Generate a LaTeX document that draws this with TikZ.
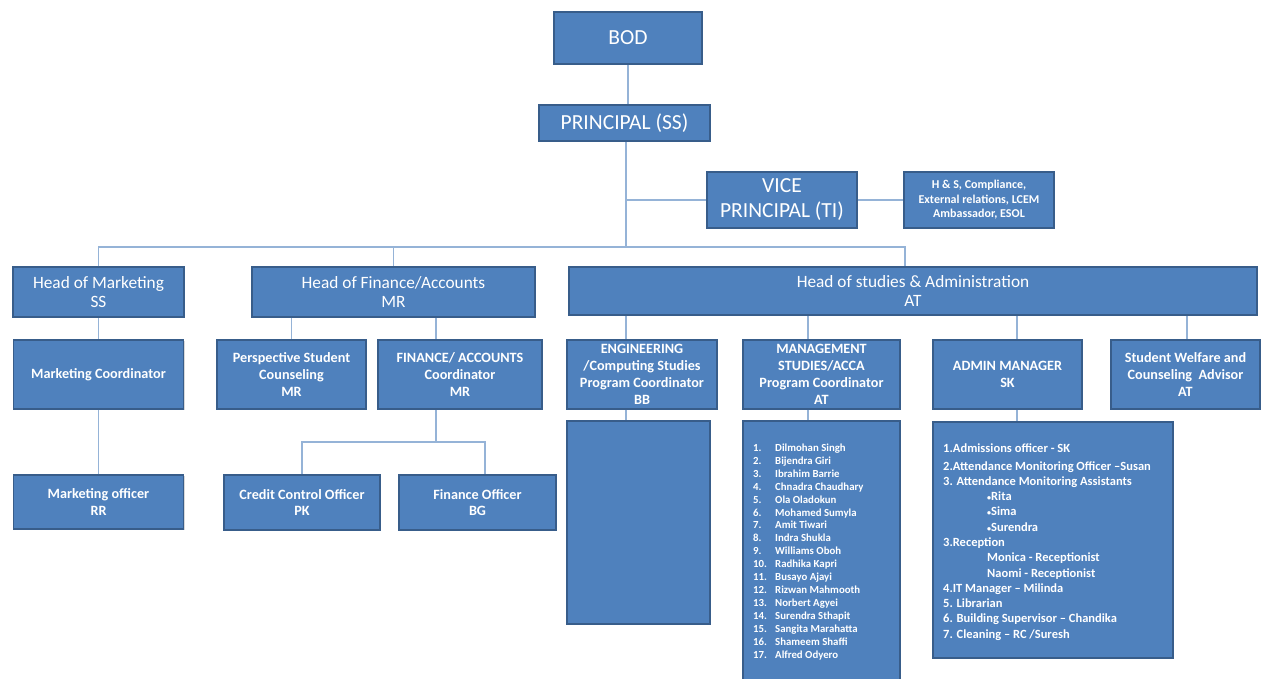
\documentclass[tikz,border=0pt]{standalone}
\usepackage{fontspec}
\setmainfont{Carlito}
\usetikzlibrary{shadows}
\definecolor{bfill}{HTML}{4F81BD}
\definecolor{bdraw}{HTML}{385D8A}
\definecolor{connc}{HTML}{95B3D7}
\newcommand\smbul{{\fontsize{8}{8}\selectfont•}}
\tikzset{
  box/.style={draw=bdraw, fill=bfill, line width=1.5pt, text=white, align=center, inner sep=0pt,
    drop shadow={shadow xshift=1.2pt, shadow yshift=-1.2pt, opacity=0.3}},
  bigtxt/.style={font=\fontsize{21.5}{25}\selectfont},
  headtxt/.style={font=\fontsize{17.3}{19}\selectfont},
  smalltxt/.style={font=\bfseries\fontsize{14.2}{16.8}\selectfont},
  listtxt/.style={text=white, align=left, inner sep=0pt, anchor=north west},
  conn/.style={draw=connc, line width=1.8pt},
}
\begin{document}
\begin{tikzpicture}[x=1pt,y=-1pt]
\useasboundingbox (0,0) rectangle (1264,678);
\clip (0,0) rectangle (1264,678);
% top
\node[box,bigtxt,minimum width=148pt,minimum height=52pt] (bod) at (628,38) {BOD};
\node[box,bigtxt,minimum width=171pt,minimum height=36pt] (prin) at (624.5,123) {PRINCIPAL (SS)};
\node[box,bigtxt,minimum width=150pt,minimum height=56pt] (vp) at (782,200) {VICE\\PRINCIPAL (TI)};
\node[box,font=\bfseries\fontsize{12}{14.5}\selectfont,minimum width=150pt,minimum height=56pt] (hsbox) at (979,200) {H \& S, Compliance,\\External relations, LCEM\\Ambassador, ESOL};
% heads
\node[box,headtxt,minimum width=171pt,minimum height=50pt] (hmkt) at (98.5,292) {Head of Marketing\\SS};
\node[box,headtxt,minimum width=283pt,minimum height=50pt] (hfin) at (393.5,292) {Head of Finance/Accounts\\MR};
\node[box,headtxt,minimum width=688pt,minimum height=48pt] (hstud) at (913,291) {Head of studies \& Administration\\AT};
% row 2
\node[box,smalltxt,minimum width=170pt,minimum height=69pt] (mcoord) at (98.5,374.5) {Marketing Coordinator};
\node[box,smalltxt,minimum width=149pt,minimum height=69pt] (psc) at (291.5,374.5) {Perspective Student\\Counseling\\MR};
\node[box,smalltxt,minimum width=164pt,minimum height=69pt] (fac) at (460,374.5) {FINANCE/ ACCOUNTS\\Coordinator\\MR};
\node[box,smalltxt,minimum width=150pt,minimum height=69pt] (eng) at (642,374.5) {ENGINEERING\\/Computing Studies\\Program Coordinator\\BB};
\node[box,smalltxt,minimum width=157pt,minimum height=69pt] (mgmt) at (821.5,374.5) {MANAGEMENT\\STUDIES/ACCA\\Program Coordinator\\AT};
\node[box,smalltxt,minimum width=149pt,minimum height=69pt] (admin) at (1007.5,374.5) {ADMIN MANAGER\\SK};
\node[box,smalltxt,minimum width=149pt,minimum height=69pt] (welf) at (1185.5,374.5) {Student Welfare and\\Counseling\ \ Advisor\\AT};
% row 3
\node[box,smalltxt,minimum width=170pt,minimum height=54pt] (mofficer) at (98.5,502) {Marketing officer\\RR};
\node[box,smalltxt,minimum width=156pt,minimum height=55pt] (cco) at (302,502.5) {Credit Control Officer\\PK};
\node[box,smalltxt,minimum width=157pt,minimum height=55pt] (fo) at (477.5,502.5) {Finance Officer\\BG};
% lists
\node[box,minimum width=143pt,minimum height=203pt] (engbox) at (638.5,522.5) {};
\node[box,minimum width=157pt,minimum height=270pt] (mgmtlist) at (821.5,556) {};
\node[box,minimum width=240pt,minimum height=236pt] (adminlist) at (1053,540) {};
\node[listtxt,font=\bfseries\fontsize{10.8}{12.95}\selectfont] (mnames) at (753,443.5) {%
\makebox[22pt][l]{1.}Dilmohan Singh\\
\makebox[22pt][l]{2.}Bijendra Giri\\
\makebox[22pt][l]{3.}Ibrahim Barrie\\
\makebox[22pt][l]{4.}Chnadra Chaudhary\\
\makebox[22pt][l]{5.}Ola Oladokun\\
\makebox[22pt][l]{6.}Mohamed Sumyla\\
\makebox[22pt][l]{7.}Amit Tiwari\\
\makebox[22pt][l]{8.}Indra Shukla\\
\makebox[22pt][l]{9.}Williams Oboh\\
\makebox[22pt][l]{10.}Radhika Kapri\\
\makebox[22pt][l]{11.}Busayo Ajayi\\
\makebox[22pt][l]{12.}Rizwan Mahmooth\\
\makebox[22pt][l]{13.}Norbert Agyei\\
\makebox[22pt][l]{14.}Surendra Sthapit\\
\makebox[22pt][l]{15.}Sangita Marahatta\\
\makebox[22pt][l]{16.}Shameem Shaffi\\
\makebox[22pt][l]{17.}Alfred Odyero};
\node[listtxt,font=\bfseries\fontsize{12.5}{15.3}\selectfont] (anames) at (943,444) {%
1.Admissions officer - SK\\[1.7pt]
2.Attendance Monitoring Officer –Susan\\
3. Attendance Monitoring Assistants\\
\hspace*{44pt}\smbul Rita\\
\hspace*{44pt}\smbul Sima\\
\hspace*{44pt}\smbul Surendra\\
3.Reception\\
\hspace*{44pt}Monica - Receptionist\\
\hspace*{44pt}Naomi - Receptionist\\
4.IT Manager – Milinda\\
5. Librarian\\
6. Building Supervisor – Chandika\\
7. Cleaning – RC /Suresh};
% junction coordinates
\coordinate (busc) at (626,247);
\coordinate (busl) at (98.5,247);
\coordinate (busr) at (905,247);
\coordinate (vpj) at (626,200);
\coordinate (finj) at (436,442);
\coordinate (finl) at (302,442);
\coordinate (finr) at (485,442);
% connectors
\draw[conn] (bod.south) -- (bod.south |- prin.north);
\draw[conn] (prin.south -| busc) -- (busc);
\draw[conn] (vpj) -- (vp.west);
\draw[conn] (vp.east) -- (hsbox.west);
\draw[conn] (hmkt.north) -- (busl) -- (busr) -- (hstud.north -| busr);
\draw[conn] (hfin.north |- busl) -- (hfin.north);
\draw[conn] (hmkt.south) -- (mcoord.north);
\draw[conn] (mcoord.south) -- (mofficer.north);
\draw[conn] (psc.north |- hfin.south) -- (psc.north);
\draw[conn] (hfin.south -| finj) -- (fac.north -| finj);
\draw[conn] (fac.south -| finj) -- (finj);
\draw[conn] (cco.north) -- (finl) -- (finr) -- (fo.north -| finr);
\draw[conn] (hstud.south -| 626,0) -- (eng.north -| 626,0);
\draw[conn] (hstud.south -| 808,0) -- (mgmt.north -| 808,0);
\draw[conn] (hstud.south -| 1017,0) -- (admin.north -| 1017,0);
\draw[conn] (hstud.south -| 1187,0) -- (welf.north -| 1187,0);
\draw[conn] (eng.south -| 626,0) -- (engbox.north -| 626,0);
\draw[conn] (mgmt.south -| 808,0) -- (mgmtlist.north -| 808,0);
\draw[conn] (admin.south -| 1017,0) -- (adminlist.north -| 1017,0);
\end{tikzpicture}
\end{document}
